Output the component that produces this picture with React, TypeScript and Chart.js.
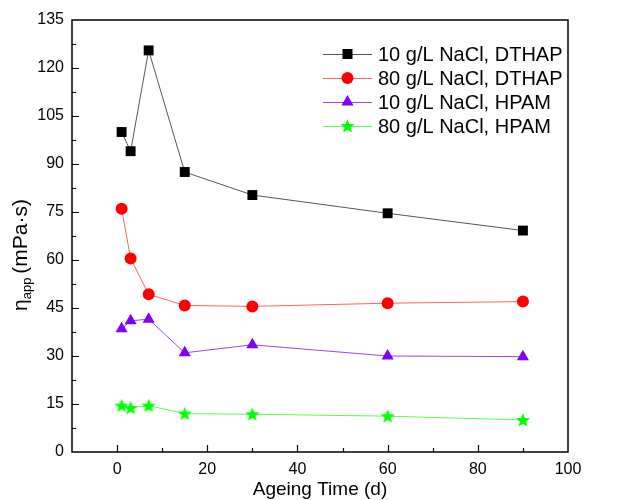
import React, { useEffect, useRef } from "react";
import { Chart, registerables } from "chart.js";

Chart.register(...registerables);

const days = [1, 3, 7, 15, 30, 60, 90];
const dthap10 = [100, 94, 125.5, 87.5, 80.3, 74.6, 69.2];
const dthap80 = [76, 60.5, 49.3, 45.8, 45.5, 46.5, 47];
const hpam10 = [38.5, 41, 41.5, 31, 33.5, 30, 29.8];
const hpam80 = [14.5, 13.8, 14.5, 12, 11.8, 11.2, 10];
const seriesNames = [
  "10 g/L NaCl, DTHAP",
  "80 g/L NaCl, DTHAP",
  "10 g/L NaCl, HPAM",
  "80 g/L NaCl, HPAM",
];
const xTicks = [0, 20, 40, 60, 80, 100];
const yTicks = [0, 15, 30, 45, 60, 75, 90, 105, 120, 135];

const FONT = "'Liberation Sans', Arial, sans-serif";

function starPath(ctx: CanvasRenderingContext2D, cx: number, cy: number, ro: number, ri: number) {
  ctx.beginPath();
  for (let i = 0; i < 10; i++) {
    const r = i % 2 === 0 ? ro : ri;
    const a = -Math.PI / 2 + (i * Math.PI) / 5;
    const x = cx + r * Math.cos(a);
    const y = cy + r * Math.sin(a);
    if (i === 0) ctx.moveTo(x, y);
    else ctx.lineTo(x, y);
  }
  ctx.closePath();
}

function makeStar(color: string): HTMLCanvasElement {
  const c = document.createElement("canvas");
  c.width = 16;
  c.height = 16;
  const ctx = c.getContext("2d")!;
  ctx.fillStyle = color;
  starPath(ctx, 8, 8.5, 7.5, 3.2);
  ctx.fill();
  return c;
}

function drawMarker(ctx: CanvasRenderingContext2D, kind: string, x: number, y: number, color: string) {
  ctx.save();
  ctx.fillStyle = color;
  if (kind === "rect") {
    ctx.fillRect(x - 5, y - 5, 10, 10);
  } else if (kind === "circle") {
    ctx.beginPath();
    ctx.arc(x, y, 6, 0, Math.PI * 2);
    ctx.fill();
  } else if (kind === "triangle") {
    const r = 7;
    ctx.beginPath();
    ctx.moveTo(x, y - r);
    ctx.lineTo(x + r * Math.sin(Math.PI / 3), y + r * 0.5);
    ctx.lineTo(x - r * Math.sin(Math.PI / 3), y + r * 0.5);
    ctx.closePath();
    ctx.fill();
  } else {
    starPath(ctx, x, y + 0.5, 7.5, 3.2);
    ctx.fill();
  }
  ctx.restore();
}

export default function App() {
  const ref = useRef<HTMLCanvasElement | null>(null);

  useEffect(() => {
    if (!ref.current) return;
    const markerColors = ["#000000", "#ff0000", "#7f00ff", "#00ff00"];
    const lineColors = ["#555555", "#ff6060", "#9a40ff", "#50ff50"];
    const kinds = ["rect", "circle", "triangle", "star"];
    const star = makeStar("#00ff00");
    const allSeries = [dthap10, dthap80, hpam10, hpam80];

    const decor = {
      id: "decor",
      afterDraw(chart: any) {
        const ctx = chart.ctx as CanvasRenderingContext2D;
        const a = chart.chartArea;
        const xs = chart.scales.x;
        const ys = chart.scales.y;
        ctx.save();
        ctx.strokeStyle = "#000";
        ctx.lineWidth = 1.5;
        ctx.strokeRect(a.left, a.top, a.right - a.left, a.bottom - a.top);
        ctx.lineWidth = 1.2;
        ctx.beginPath();
        for (let v = -10; v <= 100; v += 10) {
          const px = Math.round(xs.getPixelForValue(v)) + 0.5;
          const len = v % 20 === 0 ? 7 : 4;
          if (v === -10 || v === 100) continue;
          ctx.moveTo(px, a.bottom);
          ctx.lineTo(px, a.bottom - len);
        }
        for (let v = 0; v <= 135; v += 7.5) {
          const py = Math.round(ys.getPixelForValue(v)) + 0.5;
          const len = v % 15 === 0 ? 7 : 4;
          if (v === 0 || v === 135) continue;
          ctx.moveTo(a.left, py);
          ctx.lineTo(a.left + len, py);
        }
        ctx.stroke();

        // x title
        ctx.fillStyle = "#000";
        ctx.font = `19px ${FONT}`;
        ctx.textAlign = "center";
        ctx.textBaseline = "middle";
        ctx.fillText("Ageing Time (d)", (a.left + a.right) / 2, 490);

        // y title with subscript
        ctx.save();
        ctx.translate(20, 255);
        ctx.rotate(-Math.PI / 2);
        const main = `21px ${FONT}`;
        const sub = `13px ${FONT}`;
        ctx.font = main;
        const w1 = ctx.measureText("η").width;
        const w3 = ctx.measureText("(mPa·s)").width;
        ctx.font = sub;
        const w2 = ctx.measureText("app").width;
        const gap = 4;
        const total = w1 + w2 + gap + w3;
        let x0 = -total / 2;
        ctx.textAlign = "left";
        ctx.textBaseline = "alphabetic";
        ctx.font = main;
        ctx.fillText("η", x0, 7);
        x0 += w1;
        ctx.font = sub;
        ctx.fillText("app", x0, 11);
        x0 += w2 + gap;
        ctx.font = main;
        ctx.fillText("(mPa·s)", x0, 7);
        ctx.restore();

        // legend
        ctx.font = `20px ${FONT}`;
        ctx.textAlign = "left";
        ctx.textBaseline = "middle";
        for (let i = 0; i < 4; i++) {
          const yy = 54 + i * 24;
          ctx.strokeStyle = lineColors[i];
          ctx.lineWidth = 1;
          ctx.beginPath();
          ctx.moveTo(323, yy + 0.5);
          ctx.lineTo(372, yy + 0.5);
          ctx.stroke();
          drawMarker(ctx, kinds[i], 347.5, yy, markerColors[i]);
          ctx.fillStyle = "#000";
          ctx.fillText(seriesNames[i], 378, yy + 1);
        }
        ctx.restore();
      },
    };

    const chart = new Chart(ref.current, {
      type: "line",
      data: {
        datasets: allSeries.map((vals, i) => ({
          label: seriesNames[i],
          data: days.map((d, j) => ({ x: d, y: vals[j] })),
          borderColor: lineColors[i],
          backgroundColor: markerColors[i],
          pointBackgroundColor: markerColors[i],
          pointBorderColor: markerColors[i],
          borderWidth: 1,
          pointBorderWidth: 0,
          pointStyle: (kinds[i] === "star" ? star : kinds[i]) as any,
          pointRadius: kinds[i] === "rect" ? 7 : kinds[i] === "circle" ? 6 : 7,
          tension: 0,
        })),
      },
      options: {
        animation: false,
        responsive: false,
        maintainAspectRatio: false,
        layout: { padding: { left: 0, top: 20, right: 53, bottom: 0 } },
        plugins: { legend: { display: false }, tooltip: { enabled: false } },
        scales: {
          x: {
            type: "linear",
            min: -10,
            max: 100,
            grid: { display: false, drawTicks: false },
            border: { display: false },
            afterBuildTicks: (s: any) => {
              s.ticks = xTicks.map((v) => ({ value: v }));
            },
            afterFit: (s: any) => {
              s.height = 48;
            },
            ticks: { color: "#000", font: { family: FONT, size: 16 }, padding: 8, maxRotation: 0 },
          },
          y: {
            type: "linear",
            min: 0,
            max: 135,
            grid: { display: false, drawTicks: false },
            border: { display: false },
            afterBuildTicks: (s: any) => {
              s.ticks = yTicks.map((v) => ({ value: v }));
            },
            afterFit: (s: any) => {
              s.width = 72;
            },
            ticks: { color: "#000", font: { family: FONT, size: 16 }, padding: 8 },
          },
        },
      },
      plugins: [decor],
    } as any);
    return () => chart.destroy();
  }, []);

  return (
    <div style={{ position: "absolute", left: 0, top: 0, width: 621, height: 500, background: "#fff" }}>
      <canvas ref={ref} width={621} height={500} />
    </div>
  );
}
